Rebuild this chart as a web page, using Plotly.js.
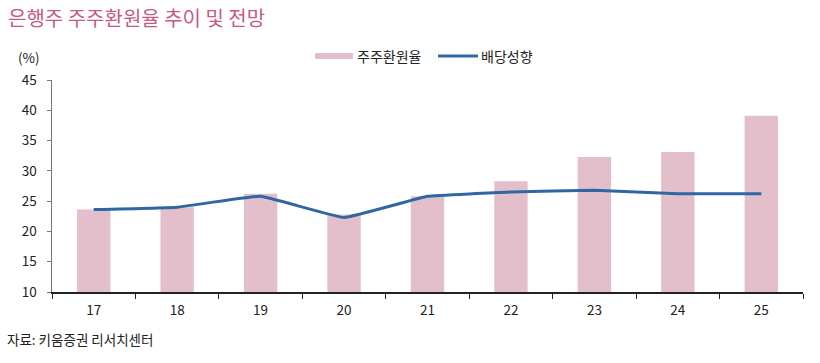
<!DOCTYPE html>
<html><head><meta charset="utf-8">
<script src="https://cdn.plot.ly/plotly-3.0.1.min.js"></script>
<style>html,body{margin:0;padding:0;background:#fff}#c{width:820px;height:363px}</style>
</head><body><div id="c"></div>
<script>
const categories = ['17','18','19','20','21','22','23','24','25'];
const payoutRatio = [23.6, 24.0, 26.2, 22.8, 25.8, 28.3, 32.3, 33.1, 39.1];
const dividendRatio = [23.6, 24.0, 25.8, 22.3, 25.8, 26.5, 26.8, 26.2, 26.2];
const seriesNames = ['주주환원율', '배당성향'];
const yTicks = [10, 15, 20, 25, 30, 35, 40, 45];

const F = '"Noto Sans CJK KR", "Noto Sans", sans-serif';
const barColor = '#e3bfcb';
const lineColor = '#2e67a1';

const traces = [
  {type:'bar', x:categories, y:payoutRatio, name:seriesNames[0], marker:{color:barColor}, hoverinfo:'none'},
  {type:'scatter', mode:'lines', x:categories, y:dividendRatio, name:seriesNames[1],
   line:{color:lineColor, width:3, shape:'spline', smoothing:0.25}, hoverinfo:'none'}
];

const layout = {
  width:820, height:363,
  margin:{l:52, r:17, t:80, b:71},
  paper_bgcolor:'#fff', plot_bgcolor:'#fff',
  showlegend:false,
  bargap:0.6,
  font:{family:F, size:13.5, color:'#222'},
  xaxis:{type:'category', showline:true, linecolor:'#222', linewidth:1.5,
    ticks:'outside', ticklen:5, tickcolor:'#222', tickson:'boundaries', ticklabelstandoff:5,
    tickfont:{family:F, size:13.5, color:'#222'}, showgrid:false, zeroline:false},
  yaxis:{range:[10,45], tickvals:yTicks, showline:true, linecolor:'#777', linewidth:1.5,
    ticks:'outside', ticklen:4, tickcolor:'#777', showgrid:false, zeroline:false, ticklabelstandoff:7,
    tickfont:{family:F, size:13.5, color:'#222'}},
  shapes:[
    {type:'rect', xref:'paper', yref:'paper', x0:(315-52)/751, x1:(353-52)/751, y0:(292-59)/212, y1:(292-53)/212,
     fillcolor:barColor, line:{width:0}},
    {type:'line', xref:'paper', yref:'paper', x0:(438-52)/751, x1:(478-52)/751, y0:(292-56)/212, y1:(292-56)/212,
     line:{color:lineColor, width:3}}
  ],
  annotations:[
    {text:'은행주 주주환원율 추이 및 전망', xref:'paper', yref:'paper', x:(6-52)/751, y:(292-17.5)/212,
     xanchor:'left', yanchor:'middle', showarrow:false, font:{family:F, size:20, color:'#c55a84'}},
    {text:'(%)', xref:'paper', yref:'paper', x:(16-52)/751, y:(292-57)/212,
     xanchor:'left', yanchor:'middle', showarrow:false, font:{family:F, size:13.5, color:'#222'}},
    {text:seriesNames[0], xref:'paper', yref:'paper', x:(355-52)/751, y:(292-56)/212,
     xanchor:'left', yanchor:'middle', showarrow:false, font:{family:F, size:14, color:'#222'}},
    {text:seriesNames[1], xref:'paper', yref:'paper', x:(479-52)/751, y:(292-56)/212,
     xanchor:'left', yanchor:'middle', showarrow:false, font:{family:F, size:14, color:'#222'}},
    {text:'자료: 키움증권 리서치센터', xref:'paper', yref:'paper', x:(5-52)/751, y:(292-339)/212,
     xanchor:'left', yanchor:'middle', showarrow:false, font:{family:F, size:13.5, color:'#222'}}
  ]
};
Plotly.newPlot('c', traces, layout, {displayModeBar:false, staticPlot:true});
</script></body></html>
